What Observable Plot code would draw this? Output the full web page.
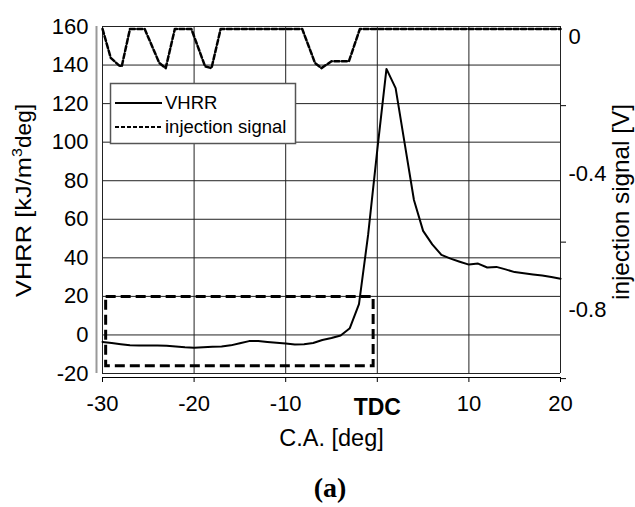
<!DOCTYPE html>
<html>
<head>
<meta charset="utf-8">
<script src="https://cdn.jsdelivr.net/npm/d3@7"></script>
<script src="https://cdn.jsdelivr.net/npm/@observablehq/plot@0.6"></script>
<style>
  html, body { margin: 0; padding: 0; background: #fff; }
  #wrap { position: relative; width: 635px; height: 507px; }
  #caption { position: absolute; left: 0; width: 635px; top: 472px;
    font-family: "Liberation Serif", "Times New Roman", serif; font-weight: bold; font-size: 28px; line-height: 32px; }
  #caption span { position: absolute; left: 330px; transform: translateX(-50%); }
</style>
</head>
<body>
<div id="wrap"><div id="chart"></div><div id="caption"><span>(a)</span></div></div>
<script>
// ---- data ----
const caDeg = [-30,-29,-28,-27,-26,-25,-24,-23,-22,-21,-20,-19,-18,-17,-16,-15,-14,-13,-12,-11,-10,-9,-8,-7,-6,-5,-4,-3,-2,-1,0,1,2,3,4,5,6,7,8,9,10,11,12,13,14,15,16,17,18,19,20];
const vhrr  = [-3.6,-4.2,-4.8,-5.3,-5.5,-5.5,-5.5,-5.6,-6.0,-6.4,-6.6,-6.4,-6.1,-6.0,-5.4,-4.3,-3.2,-3.1,-3.6,-4.0,-4.5,-5.0,-4.8,-4.2,-2.6,-1.6,-0.3,3.5,16,52,96,138,128,99,70,54,47,41.5,39.6,38,36.5,37,35,35.3,34,32.6,32,31.4,30.8,30,29.2];

const sigCA = [-30,-29.1,-28.2,-27.9,-27,-25.4,-23.8,-23.1,-22.1,-20.3,-18.8,-18.1,-17.1,-8.2,-6.8,-6.1,-5.0,-3.1,-1.9,20];
const sigV  = [0.025,-0.06,-0.082,-0.085,0.025,0.025,-0.075,-0.09,0.025,0.025,-0.085,-0.09,0.025,0.025,-0.075,-0.09,-0.07,-0.07,0.025,0.025];

const xDomain = [-30, 20];
const yDomain = [-20, 160];
const rightDomain = [-0.985, 0.032];           // secondary axis range (V)
const xTicks = [-30, -20, -10, 10, 20];
const xTickTDC = [0];
const xTickTDCLabel = "TDC";
const yTicks = [-20, 0, 20, 40, 60, 80, 100, 120, 140, 160];
const xGrid = [-30, -20, -10, 0, 10, 20];
const rightLabels = [0, -0.4, -0.8];
const rightTickMarks = [-0.2, -0.6, -1.0];
const boxX = [-29.6, -0.4];
const boxY = [-16.2, 19.7];

const xTitle = "C.A. [deg]";
const yTitleParts = ["VHRR [kJ/m", "3", "deg]"];
const y2Title = "injection signal [V]";
const legendLabels = ["VHRR", "injection signal"];

// map secondary-axis values onto the primary y scale
const toL = v => yDomain[0] + (v - rightDomain[0]) / (rightDomain[1] - rightDomain[0]) * (yDomain[1] - yDomain[0]);
const fromL = L => rightDomain[0] + (L - yDomain[0]) / (yDomain[1] - yDomain[0]) * (rightDomain[1] - rightDomain[0]);

const vhrrData = caDeg.map((x, i) => ({x, y: vhrr[i]}));
const sigData = sigCA.map((x, i) => ({x, y: toL(sigV[i])}));
const boxData = [{x1: boxX[0], x2: boxX[1], y1: boxY[0], y2: boxY[1]}];

const font = "'Liberation Sans', Arial, sans-serif";

const chart = Plot.plot({
  width: 635, height: 455,
  marginLeft: 102, marginRight: 75, marginTop: 26, marginBottom: 82,
  style: {fontFamily: font, color: "#000", background: "#fff", overflow: "visible"},
  x: {domain: xDomain},
  y: {domain: yDomain},
  marks: [
    Plot.gridY(yTicks, {stroke: "#222", strokeOpacity: 1, strokeWidth: 1}),
    Plot.gridX(xGrid, {stroke: "#222", strokeOpacity: 1, strokeWidth: 1}),
    // offset left spine
    Plot.ruleX([xDomain[0]], {dx: -6, stroke: "#999", strokeWidth: 2}),
    // offset bottom axis line
    Plot.ruleY([yDomain[0]], {dy: 4, stroke: "#000", strokeWidth: 1}),
    Plot.axisX(xTicks, {anchor: "bottom", dy: 4, tickSize: 5, tickPadding: 13, fontSize: 22, tickFormat: d => String(d)}),
    Plot.axisX(xTickTDC, {anchor: "bottom", dy: 4, tickSize: 5, tickPadding: 16, fontSize: 23, fontWeight: "bold", tickFormat: () => xTickTDCLabel}),
    Plot.axisY(yTicks, {anchor: "left", tickSize: 0, tickPadding: 14, fontSize: 22, tickFormat: d => String(d)}),
    Plot.axisY(rightLabels.map(toL), {anchor: "right", tickSize: 0, tickPadding: 8, fontSize: 22,
      tickFormat: d => String(Math.round(fromL(d) * 10) / 10)}),
    Plot.axisY(rightTickMarks.map(toL), {anchor: "right", tickSize: 5, tickFormat: () => ""}),
    Plot.rect(boxData, {x1: "x1", x2: "x2", y1: "y1", y2: "y2", fill: "none", stroke: "#000", strokeWidth: 3, strokeDasharray: "10,5"}),
    Plot.line(sigData, {x: "x", y: "y", stroke: "#000", strokeWidth: 2.5, strokeDasharray: "5,2.5"}),
    Plot.line(vhrrData, {x: "x", y: "y", stroke: "#000", strokeWidth: 2}),
    Plot.text([xTitle], {frameAnchor: "bottom", dy: 72, fontSize: 23.5, fill: "#000"})
  ]
});
document.getElementById("chart").appendChild(chart);

const svg = d3.select(chart);

// left rotated title, pieces with fixed lengths (superscript 3)
const yg = svg.append("g").attr("font-family", font).attr("fill", "#000").attr("text-anchor", "start")
  .attr("transform", "translate(31,297) rotate(-90)");
const pieceSize = [22.5, 15.5, 22.5];
const pieceLen = [140, 9, 44];
const pieceShift = [0, -9, 0];
let pos = 0;
yTitleParts.forEach((s, i) => {
  yg.append("text").attr("x", pos).attr("y", pieceShift[i]).attr("font-size", pieceSize[i])
    .attr("textLength", pieceLen[i]).attr("lengthAdjust", "spacingAndGlyphs").text(s);
  pos += pieceLen[i];
});

svg.append("text").attr("font-family", font).attr("fill", "#000").attr("font-size", 24).attr("text-anchor", "start")
  .attr("transform", "translate(629,300) rotate(-90)")
  .attr("textLength", 196).attr("lengthAdjust", "spacingAndGlyphs").text(y2Title);

// legend box inside the plot area
const lg = svg.append("g").attr("font-family", font).attr("font-size", 18.5).attr("text-anchor", "start");
lg.append("rect").attr("x", 110.5).attr("y", 83.5).attr("width", 185).attr("height", 60)
  .attr("fill", "#fff").attr("stroke", "#555").attr("stroke-width", 1.5);
lg.append("line").attr("x1", 115).attr("x2", 162).attr("y1", 103).attr("y2", 103)
  .attr("stroke", "#000").attr("stroke-width", 2);
lg.append("line").attr("x1", 115).attr("x2", 162).attr("y1", 127).attr("y2", 127)
  .attr("stroke", "#000").attr("stroke-width", 2).attr("stroke-dasharray", "4,2");
lg.append("text").attr("x", 165).attr("y", 103).attr("dy", "0.35em").text(legendLabels[0]);
lg.append("text").attr("x", 165).attr("y", 127).attr("dy", "0.35em").text(legendLabels[1]);
</script>
</body>
</html>
